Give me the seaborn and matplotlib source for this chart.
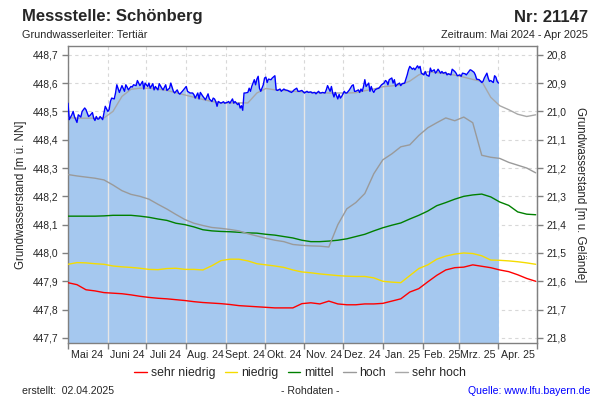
import numpy as np
import pandas as pd
import matplotlib
matplotlib.use('Agg')
import matplotlib.pyplot as plt
import matplotlib.dates as mdates
from matplotlib.lines import Line2D
from matplotlib.ticker import FixedLocator, FuncFormatter, NullFormatter
import seaborn as sns

# Zeitbezug und Geländehöhe (rechte Achse = Gelände - Wasserstand)
start = pd.Timestamp('2024-05-01')
ende = pd.Timestamp('2025-05-01')
gelaende = 469.5

# Messwerte: Tage ab 01.05.2024 und Grundwasserstand [m ü. NN]
mess_tage = [0, 1, 3, 4, 5, 7, 8, 10, 11, 13, 14, 16, 17, 19, 20, 21, 22, 23, 24, 25,
             27, 28, 29, 31, 32, 33, 34, 36, 37, 38, 40, 41, 42, 44, 45, 46, 47, 49, 50, 51,
             53, 54, 56, 58, 59, 60, 62, 63, 64, 66, 67, 68, 70, 71, 73, 74, 76, 77, 79, 80,
             82, 83, 85, 86, 87, 89, 91, 92, 93, 95, 97, 98, 99, 101, 102, 103, 105, 107, 109, 110,
             112, 113, 114, 115, 116, 117, 119, 121, 122, 124, 125, 126, 128, 129, 130, 132, 133, 134, 135, 136,
             137, 138, 140, 141, 142, 143, 145, 146, 147, 148, 149, 150, 152, 153, 154, 155, 156, 158, 159, 161,
             162, 163, 165, 166, 168, 169, 171, 172, 174, 175, 176, 178, 179, 180, 182, 184, 186, 187, 189, 190,
             192, 193, 195, 196, 197, 198, 200, 201, 202, 204, 205, 206, 207, 208, 210, 211, 212, 213, 215, 216,
             217, 219, 221, 222, 223, 224, 226, 227, 228, 229, 230, 231, 232, 234, 235, 236, 237, 238, 239, 240,
             242, 243, 244, 246, 247, 248, 249, 250, 252, 253, 254, 255, 256, 258, 259, 260, 262, 263, 264, 265,
             266, 268, 269, 270, 272, 273, 274, 275, 277, 278, 279, 281, 282, 283, 285, 286, 287, 288, 290, 291,
             292, 294, 295, 296, 298, 299, 301, 302, 303, 305, 306, 307, 309, 310, 311, 313, 314, 316, 317, 318,
             320, 322, 323, 324, 326, 327, 328, 329, 331, 332, 333, 334, 335]
mess_werte = [448.529, 448.471, 448.488, 448.500, 448.482, 448.461, 448.488, 448.480, 448.500, 448.512,
              448.506, 448.482, 448.485, 448.496, 448.476, 448.468, 448.482, 448.473, 448.473, 448.482,
              448.471, 448.494, 448.518, 448.500, 448.506, 448.535, 448.547, 448.544, 448.565, 448.594,
              448.567, 448.579, 448.591, 448.571, 448.594, 448.586, 448.576, 448.588, 448.586, 448.594,
              448.591, 448.609, 448.591, 448.606, 448.579, 448.600, 448.588, 448.600, 448.582, 448.598,
              448.576, 448.588, 448.576, 448.598, 448.582, 448.576, 448.594, 448.574, 448.582, 448.600,
              448.571, 448.565, 448.576, 448.565, 448.561, 448.571, 448.582, 448.588, 448.571, 448.565,
              448.565, 448.559, 448.547, 448.565, 448.544, 448.567, 448.553, 448.541, 448.562, 448.544,
              448.535, 448.547, 448.544, 448.535, 448.518, 448.535, 448.529, 448.534, 448.529, 448.532,
              448.535, 448.529, 448.544, 448.529, 448.535, 448.524, 448.529, 448.512, 448.520, 448.504,
              448.565, 448.565, 448.567, 448.582, 448.571, 448.588, 448.612, 448.594, 448.614, 448.624,
              448.582, 448.571, 448.594, 448.618, 448.621, 448.602, 448.614, 448.612, 448.618, 448.626,
              448.576, 448.574, 448.579, 448.571, 448.579, 448.576, 448.574, 448.571, 448.567, 448.571,
              448.576, 448.582, 448.571, 448.571, 448.574, 448.565, 448.571, 448.567, 448.569, 448.565,
              448.567, 448.562, 448.571, 448.565, 448.565, 448.567, 448.565, 448.576, 448.591, 448.571,
              448.588, 448.565, 448.551, 448.567, 448.544, 448.560, 448.547, 448.553, 448.571, 448.565,
              448.565, 448.576, 448.591, 448.594, 448.571, 448.571, 448.576, 448.567, 448.579, 448.571,
              448.588, 448.612, 448.588, 448.600, 448.571, 448.588, 448.574, 448.567, 448.576, 448.579,
              448.582, 448.588, 448.594, 448.600, 448.609, 448.606, 448.594, 448.612, 448.618, 448.600,
              448.612, 448.588, 448.594, 448.600, 448.591, 448.598, 448.600, 448.614, 448.629, 448.647,
              448.659, 448.649, 448.653, 448.647, 448.661, 448.653, 448.659, 448.635, 448.629, 448.641,
              448.629, 448.624, 448.653, 448.641, 448.647, 448.635, 448.641, 448.649, 448.635, 448.641,
              448.635, 448.638, 448.629, 448.633, 448.629, 448.649, 448.641, 448.635, 448.626, 448.629,
              448.624, 448.635, 448.633, 448.629, 448.635, 448.647, 448.645, 448.638, 448.629, 448.614,
              448.612, 448.602, 448.606, 448.618, 448.635, 448.618, 448.606, 448.609, 448.602, 448.626,
              448.621, 448.606, 448.600]

# Vergleichskurven (wöchentlich ab 01.05.2024)
ref_tage = list(range(0, 365, 7))
sehr_niedrig = [447.895, 447.888, 447.870, 447.866, 447.860, 447.858, 447.856, 447.852, 447.847, 447.843,
                447.840, 447.838, 447.835, 447.832, 447.828, 447.825, 447.823, 447.821, 447.818, 447.814,
                447.812, 447.810, 447.808, 447.806, 447.806, 447.806, 447.821, 447.824, 447.820, 447.830,
                447.820, 447.817, 447.817, 447.820, 447.820, 447.822, 447.830, 447.838, 447.862, 447.874,
                447.898, 447.921, 447.940, 447.948, 447.950, 447.958, 447.953, 447.948, 447.940, 447.934,
                447.923, 447.910, 447.900]
niedrig = [447.960, 447.966, 447.965, 447.962, 447.960, 447.954, 447.951, 447.949, 447.946, 447.942,
           447.941, 447.945, 447.946, 447.942, 447.942, 447.940, 447.955, 447.973, 447.978, 447.978,
           447.972, 447.962, 447.958, 447.954, 447.949, 447.940, 447.933, 447.930, 447.926, 447.923,
           447.920, 447.918, 447.917, 447.917, 447.912, 447.900, 447.897, 447.895, 447.920, 447.945,
           447.958, 447.978, 447.989, 447.996, 448.000, 447.998, 447.990, 447.975, 447.974, 447.972,
           447.969, 447.965, 447.960]
mittel = [448.130, 448.130, 448.130, 448.130, 448.131, 448.133, 448.133, 448.133, 448.130, 448.126,
          448.120, 448.115, 448.105, 448.100, 448.092, 448.082, 448.078, 448.076, 448.075, 448.073,
          448.071, 448.070, 448.066, 448.063, 448.058, 448.053, 448.045, 448.040, 448.040, 448.042,
          448.045, 448.050, 448.058, 448.066, 448.078, 448.089, 448.098, 448.106, 448.120, 448.133,
          448.148, 448.167, 448.178, 448.190, 448.200, 448.205, 448.208, 448.198, 448.180, 448.168,
          448.145, 448.137, 448.135]
hoch = [448.277, 448.272, 448.268, 448.264, 448.258, 448.240, 448.220, 448.207, 448.200, 448.190,
        448.172, 448.155, 448.136, 448.118, 448.105, 448.097, 448.090, 448.087, 448.083, 448.078,
        448.068, 448.060, 448.052, 448.045, 448.040, 448.030, 448.027, 448.025, 448.024, 448.021,
        448.100, 448.156, 448.178, 448.210, 448.280, 448.329, 448.350, 448.375, 448.382, 448.415,
        448.442, 448.460, 448.477, 448.467, 448.480, 448.460, 448.345, 448.338, 448.334, 448.320,
        448.310, 448.300, 448.283]
sehr_hoch = [448.478, 448.476, 448.476, 448.476, 448.477, 448.500, 448.553, 448.578, 448.582, 448.582,
             448.579, 448.574, 448.566, 448.558, 448.550, 448.542, 448.535, 448.530, 448.530, 448.530,
             448.530, 448.565, 448.581, 448.576, 448.574, 448.571, 448.569, 448.567, 448.566, 448.565,
             448.565, 448.565, 448.566, 448.573, 448.579, 448.587, 448.590, 448.594, 448.607, 448.629,
             448.640, 448.637, 448.633, 448.628, 448.621, 448.613, 448.606, 448.550, 448.520, 448.506,
             448.490, 448.482, 448.488]

kurven = ['sehr niedrig', 'niedrig', 'mittel', 'hoch', 'sehr hoch']
farben = {'sehr niedrig': '#ff0000', 'niedrig': '#f5dc00', 'mittel': '#008000',
          'hoch': '#9a9a9a', 'sehr hoch': '#a8a8a8'}

monate = ['Mai 24', 'Juni 24', 'Juli 24', 'Aug. 24', 'Sept. 24', 'Okt. 24',
          'Nov. 24', 'Dez. 24', 'Jan. 25', 'Feb. 25', 'Mrz. 25', 'Apr. 25']

# Achsenteilung links [m ü. NN] und rechts [m u. Gelände]
ticks_nn = [447.7, 447.8, 447.9, 448.0, 448.1, 448.2, 448.3, 448.4, 448.5, 448.6, 448.7]
ticks_gel = [20.8, 20.9, 21.0, 21.1, 21.2, 21.3, 21.4, 21.5, 21.6, 21.7, 21.8]

# Tabellen aufbauen
mess = pd.DataFrame({'Datum': start + pd.to_timedelta(mess_tage, unit='D'), 'Wert': mess_werte})
ref = pd.DataFrame({'Datum': start + pd.to_timedelta(ref_tage, unit='D'),
                    'sehr niedrig': sehr_niedrig, 'niedrig': niedrig, 'mittel': mittel,
                    'hoch': hoch, 'sehr hoch': sehr_hoch})
ref = ref.melt(id_vars='Datum', var_name='Kurve', value_name='Wert')

sns.set_style('white')
plt.rcParams['font.family'] = ['Liberation Sans', 'DejaVu Sans']

fig = plt.figure(figsize=(6, 4), dpi=100)
ax = fig.add_axes([68 / 600, 1 - 343 / 400, 469 / 600, 297 / 400])

ymin, ymax = 447.682, 448.731
ax.set_xlim(start, ende)
ax.set_ylim(ymin, ymax)

# Gitter
ax.set_axisbelow(True)
ax.grid(True, which='major', color='#d8d8d8', lw=0.8, ls=(0, (3, 3)))

# Fläche unter den Messwerten
ax.fill_between(mess['Datum'], ymin, mess['Wert'], color='#a5c8ef', lw=0, zorder=1)

# helle Monatslinien innerhalb der Fläche
monatsanfang = pd.date_range('2024-06-01', '2025-03-01', freq='MS')
x_num = mdates.date2num(mess['Datum'])
oben = np.interp(mdates.date2num(monatsanfang), x_num, mess['Wert'])
ax.vlines(monatsanfang, ymin, oben, color='#e6e6e6', lw=1.0, zorder=2)

# Vergleichskurven und Messwerte
sns.lineplot(data=ref, x='Datum', y='Wert', hue='Kurve', hue_order=kurven, palette=farben,
             estimator=None, lw=1, legend=False, ax=ax, zorder=3)
sns.lineplot(data=mess, x='Datum', y='Wert', color='#0000ff', lw=1, estimator=None, ax=ax, zorder=5)

# Achsen
komma = FuncFormatter(lambda v, pos: f'{v:.1f}'.replace('.', ','))
ax.yaxis.set_major_locator(FixedLocator(ticks_nn))
ax.yaxis.set_major_formatter(komma)
ax.xaxis.set_major_locator(mdates.MonthLocator())
ax.xaxis.set_major_formatter(NullFormatter())
ax.xaxis.set_minor_locator(mdates.MonthLocator(bymonthday=16))


def monat_label(x, pos):
    d = mdates.num2date(x)
    i = (d.year - 2024) * 12 + d.month - 5
    return monate[i] if 0 <= i < len(monate) else ''


ax.xaxis.set_minor_formatter(FuncFormatter(monat_label))
ax.tick_params(axis='x', which='major', length=4, width=1, color='#808080', bottom=True)
ax.tick_params(axis='x', which='minor', length=0, labelsize=7.7, pad=5, bottom=True)
ax.tick_params(axis='y', which='major', length=4, width=1, color='#808080', labelsize=7.4, pad=3, left=True)
ax.set_xlabel('')
ax.set_ylabel('Grundwasserstand [m ü. NN]', fontsize=8.3, labelpad=4)
for sp in ax.spines.values():
    sp.set_color('#808080')
    sp.set_linewidth(1)

sec = ax.secondary_yaxis('right', functions=(lambda v: gelaende - v, lambda t: gelaende - t))
sec.yaxis.set_major_locator(FixedLocator(ticks_gel))
sec.yaxis.set_major_formatter(komma)
sec.tick_params(axis='y', length=4, width=1, color='#808080', labelsize=7.4, pad=3)
sec.spines['right'].set_color('#808080')
sec.set_ylabel('Grundwasserstand [m u. Gelände]', fontsize=8.3, rotation=270, va='bottom', labelpad=5)

# Legende
handles = [Line2D([0], [0], color=farben[k], lw=1) for k in kurven]
fig.legend(handles, kurven, loc='center', bbox_to_anchor=(300 / 600, 1 - 373 / 400), ncol=5,
           frameon=False, fontsize=8.8, handlelength=1.05, handletextpad=0.3, columnspacing=0.75)

# Kopf- und Fußzeilen
fig.text(22 / 600, 1 - 21.5 / 400, 'Messstelle: Schönberg', fontsize=12, fontweight='bold', ha='left', va='baseline')
fig.text(588 / 600, 1 - 21.5 / 400, 'Nr: 21147', fontsize=12, fontweight='bold', ha='right', va='baseline')
fig.text(22 / 600, 1 - 37.5 / 400, 'Grundwasserleiter: Tertiär', fontsize=7.8, ha='left', va='baseline')
fig.text(588 / 600, 1 - 37.5 / 400, 'Zeitraum: Mai 2024 - Apr 2025', fontsize=7.8, ha='right', va='baseline')
fig.text(22 / 600, 1 - 394 / 400, 'erstellt:  02.04.2025', fontsize=7.6, ha='left', va='baseline')
fig.text(310 / 600, 1 - 394 / 400, '- Rohdaten -', fontsize=7.6, ha='center', va='baseline')
fig.text(590 / 600, 1 - 394 / 400, 'Quelle: www.lfu.bayern.de', fontsize=7.6, color='#0000ff', ha='right', va='baseline')

fig.savefig('out.png', dpi=100)
